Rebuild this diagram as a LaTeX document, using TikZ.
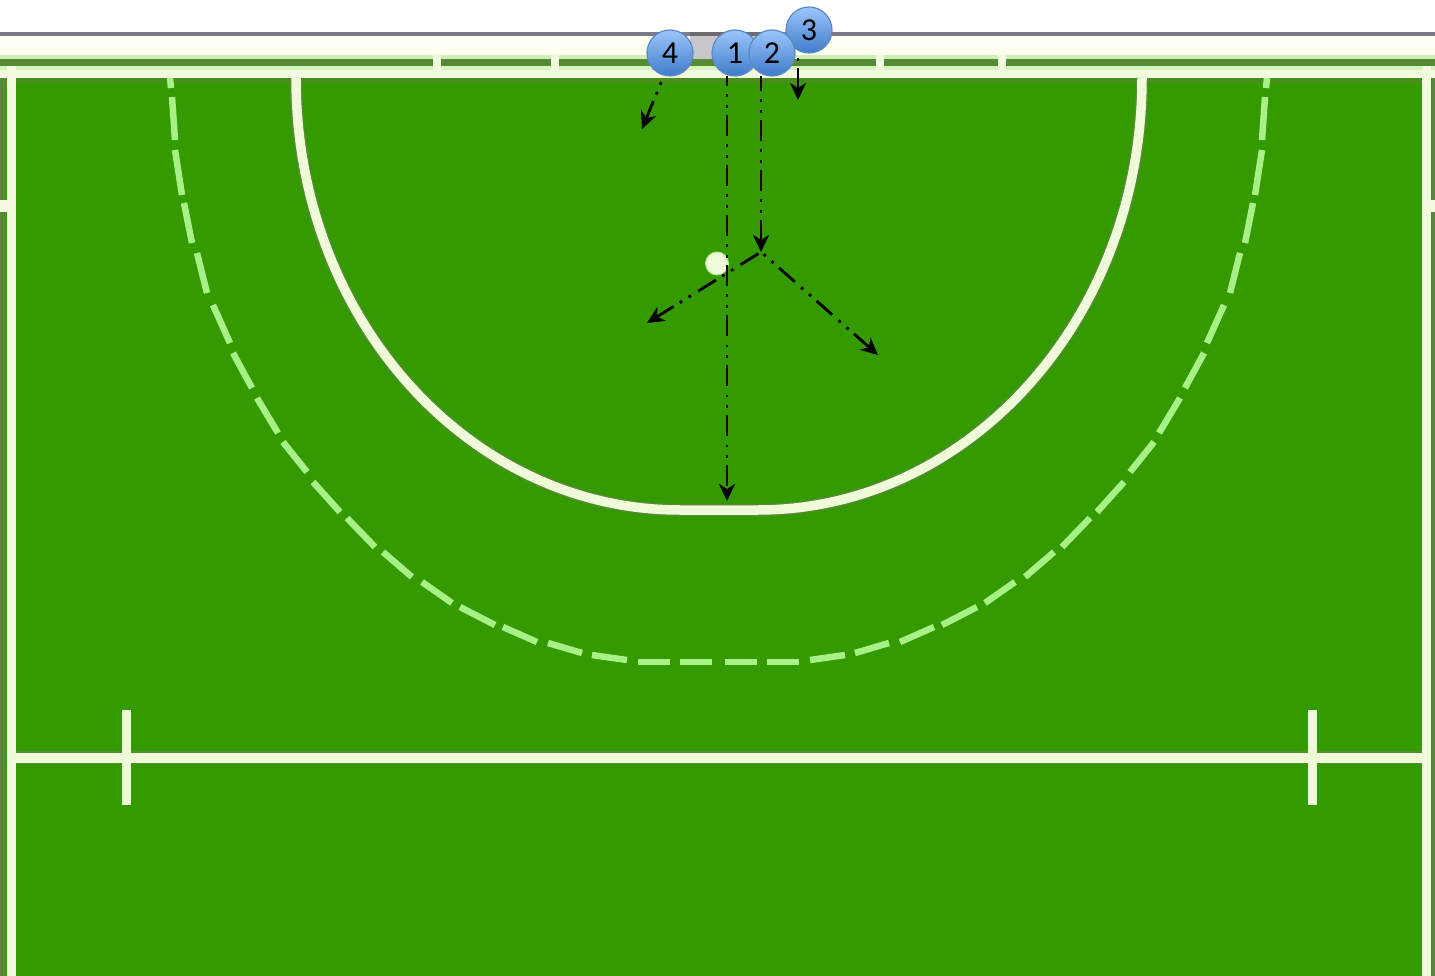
\documentclass[tikz,border=0pt]{standalone}
\usepackage{fontspec}
\setmainfont{Carlito}
\usetikzlibrary{arrows.meta,calc}
\definecolor{field}{HTML}{359A00}
\definecolor{halo}{HTML}{568A35}
\definecolor{halob}{HTML}{4A8F1C}
\definecolor{linew}{HTML}{EEFAD8}
\definecolor{dashg}{HTML}{A8F088}
\definecolor{topline}{HTML}{7F7A8A}
\definecolor{goalline}{HTML}{6E6A70}
\definecolor{bandw}{HTML}{FCFFF2}
\definecolor{bandl}{HTML}{CFEFB4}
\definecolor{bandm}{HTML}{D5F3BC}
\definecolor{goalg}{HTML}{C9C6C9}
\definecolor{sidew}{HTML}{F2FBE0}
\definecolor{plrtop}{HTML}{9CC5FA}
\definecolor{plrbot}{HTML}{3F7CCB}
\definecolor{plredge}{HTML}{5A8AC4}
\tikzset{
  marking/.style={draw=linew,line width=10pt},
  dashmark/.style={draw=dashg,line width=6.5pt},
  player/.style={circle,draw=plredge,line width=1.2pt,minimum size=46pt,inner sep=0pt,outer sep=0pt,
     top color=plrtop,bottom color=plrbot,
     font=\fontsize{32}{32}\selectfont,text=black},
  play/.style={draw=black,line width=2.8pt,
     dash pattern=on 21pt off 8.5pt on 2.8pt off 7.7pt on 2.8pt off 7.2pt,
     -{Stealth[length=17pt,width=16pt,inset=5pt]}},
}
\newcommand{\innerarc}{(296,78) .. controls (296,320) and (470,510) .. (680,510) -- (758,510) .. controls (968,510) and (1142,320) .. (1142,78)}
\begin{document}
\begin{tikzpicture}[x=1pt,y=-1pt]
\useasboundingbox (0,0) rectangle (1435,976);
% ground
\fill[white] (0,0) rectangle (1435,33);
\fill[field] (0,60) rectangle (1435,976);
\fill[halob] (0,78) rectangle (1435,83);
\fill[halo] (0,59) rectangle (1435,78);
\fill[halo] (0,60) rectangle (6,976);
\fill[halo] (1432,60) rectangle (1435,976);
% top band
\fill[topline] (0,32.5) rectangle (1435,36.5);
\fill[bandw] (0,36.5) rectangle (1435,55);
\fill[bandl] (0,55) rectangle (1435,59);
\fill[goalg] (690,36.5) rectangle (765,59);
\fill[goalline] (690,32.5) rectangle (765,36.5);
\fill[bandm] (0,66) rectangle (1435,70);
\fill[sidew] (0,70) rectangle (1435,78);
% goal-line ticks
\foreach \tx in {437,555,880,1002}{\fill[sidew] (\tx-4,54) rectangle (\tx+4,70);}
% sidelines
\fill[sidew] (7,66) rectangle (16,976);
\fill[sidew] (1422,66) rectangle (1431,976);
\fill[sidew] (0,200) rectangle (7,212);
\fill[sidew] (1431,200) rectangle (1435,212);
% centre line and marks
\draw[draw=halo,line width=13pt] (16,757.5) -- (1422,757.5);
\draw[marking] (12,757.5) -- (1426,757.5);
\draw[draw=linew,line width=9pt] (126,710) -- (126,805);
\draw[draw=linew,line width=9pt] (1312,710) -- (1312,805);
% shooting circle
\draw[draw=halo,line width=12.5pt] \innerarc;
\draw[marking,line width=9.5pt] \innerarc;
% dashed circle
\foreach \a/\b/\c/\d in {170/78/171/88,172/97/175/140,175/150/182/195,184/203/192/243,197/253/207/293,213/305/230/343,233/353/252/388,257/398/278/433,283/442/307/472,313/482/340/512,347/518/375/547,383/552/412/577,422/582/452/603,460/607/495/625,503/627/537/642,548/643/582/653,592/655/627/660,638/662/670/662,680/662/712/662}{
  \draw[dashmark] (\a,\b) -- (\c,\d);
  \draw[dashmark] (1437-\a,\b) -- (1437-\c,\d);
}
% ball
\node[circle,fill=linew,draw=linew!70!field,line width=1pt,minimum size=23pt,inner sep=0pt] (ball) at (717,263.5) {};
% players
\node[player] (p4) at (670,53) {4};
\node[player] (p1) at (735,53) {1};
\node[player] (p3) at (809,30) {3};
\node[player] (p2) at (772,53) {2};
% free ends
\coordinate (t1) at (727,501);
\coordinate (t2) at (761,252);
\coordinate (t3) at (798,100);
\coordinate (t4) at (642,129);
\coordinate (t5) at (647,323);
\coordinate (t6) at (878,355);
% runs
\draw[play,dash phase=11pt] (p1.south -| t1) -- (t1);
\draw[play,dash phase=6pt] (p2.south -| t2) -- (t2);
\draw[play,dash phase=35pt] (p3.south -| t3) -- (t3);
\draw[play,dash phase=22pt] (p4.255) -- (t4);
\draw[play,dash phase=47pt] (t2) -- (t5);
\draw[play,dash phase=26pt] (t2) -- (t6);
\end{tikzpicture}
\end{document}
